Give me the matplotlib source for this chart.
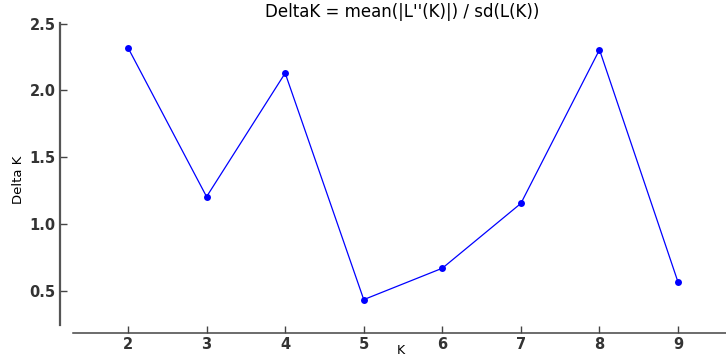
import matplotlib
matplotlib.use('Agg')
import matplotlib.pyplot as plt

# K values and Evanno DeltaK
k_values = [2, 3, 4, 5, 6, 7, 8, 9]
delta_k = [2.32, 1.205, 2.13, 0.435, 0.67, 1.155, 2.305, 0.565]
y_ticks = [0.5, 1.0, 1.5, 2.0, 2.5]

fig = plt.figure(figsize=(7.26, 3.6), dpi=100)
ax = fig.add_axes([73 / 726, 35 / 360, 653 / 726, 302 / 360])

ax.plot(k_values, delta_k, color='blue', linewidth=0.9,
        marker='o', markersize=5, markeredgewidth=0)

ax.set_xlim(1.3, 9.61)
ax.set_ylim(0.245, 2.505)
ax.set_xticks(k_values)
ax.set_yticks(y_ticks)
ax.set_yticklabels(['%.1f' % v for v in y_ticks])

# detached spines, like the original R-style plot (offsets in points)
for side in ['top', 'right']:
    ax.spines[side].set_visible(False)
ax.spines['left'].set_position(('outward', 13 * 0.72))
ax.spines['bottom'].set_position(('outward', 8 * 0.72))
ax.spines['left'].set_color('#555555')
ax.spines['left'].set_linewidth(1.6)
ax.spines['bottom'].set_color('#444444')
ax.spines['bottom'].set_linewidth(1.1)

ax.tick_params(direction='in', length=5, width=1, color='#444444',
               labelcolor='#333333', labelsize=10.5, pad=3)
for lab in ax.get_xticklabels() + ax.get_yticklabels():
    lab.set_fontweight('bold')

fig.text(402 / 726, 1 - 12 / 360, "DeltaK = mean(|L''(K)|) / sd(L(K))",
         fontsize=12, ha='center', va='center')
fig.text(401 / 726, 1 - 351 / 360, 'K', fontsize=9, ha='center', va='center')
fig.text(18 / 726, 1 - 180 / 360, 'Delta K', fontsize=9.5, rotation=90,
         ha='center', va='center',
         family=['Liberation Sans Narrow', 'DejaVu Sans'])

fig.savefig('out.png', dpi=100)
